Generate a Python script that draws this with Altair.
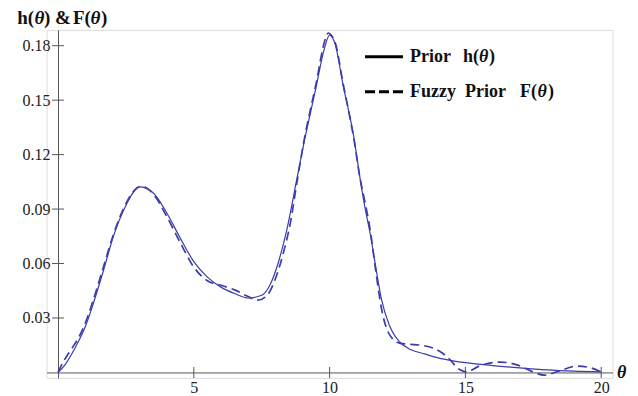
import altair as alt
import pandas as pd

# ---- data ----
theta_h = [0, 0.25, 0.5, 0.75, 1.0, 1.3, 1.67, 2.04, 2.5, 3.0, 3.5, 4.0, 4.5, 5.0, 5.5, 6.0, 6.5,
           7.0, 7.5, 7.8, 8.1, 8.4, 8.8, 9.05, 9.5, 9.8, 10.0, 10.2, 10.5, 10.9, 11.12, 11.3, 11.5,
           11.7, 11.9, 12.2, 12.6, 13.0, 13.5, 14.0, 14.5, 15.0, 16.0, 17.0, 18.0, 19.0, 20.0]
h_vals = [0.0, 0.004, 0.010, 0.017, 0.025, 0.038, 0.056, 0.075, 0.092, 0.1022, 0.099, 0.088, 0.074,
          0.061, 0.0525, 0.047, 0.0435, 0.041, 0.0425, 0.048, 0.060, 0.077, 0.107, 0.126, 0.157,
          0.178, 0.1858, 0.181, 0.158, 0.129, 0.107, 0.091, 0.076, 0.058, 0.041, 0.026, 0.0165,
          0.0125, 0.0102, 0.008, 0.0065, 0.0054, 0.0038, 0.0025, 0.0014, 0.0007, 0.0003]

theta_f = [0, 0.2, 0.5, 0.75, 1.0, 1.3, 1.67, 2.04, 2.5, 2.9, 3.1, 3.5, 4.0, 4.5, 5.0, 5.5, 6.0,
           6.5, 7.0, 7.35, 7.7, 8.05, 8.3, 8.55, 8.8, 9.05, 9.5, 9.85, 9.95, 10.05, 10.2, 10.5,
           10.9, 11.12, 11.3, 11.5, 11.7, 11.9, 12.2, 12.6, 13.0, 13.35, 13.8, 14.3, 14.8, 15.05,
           15.5, 16.3, 16.9, 17.5, 17.9, 18.4, 19.1, 19.6, 20.0]
f_vals = [0.0, 0.006, 0.013, 0.019, 0.027, 0.040, 0.058, 0.076, 0.093, 0.1015, 0.1025, 0.0985,
          0.086, 0.0715, 0.058, 0.0505, 0.048, 0.0455, 0.0418, 0.0398, 0.0425, 0.0535, 0.066,
          0.082, 0.105, 0.127, 0.159, 0.184, 0.187, 0.186, 0.182, 0.159, 0.128, 0.107, 0.094,
          0.078, 0.056, 0.036, 0.021, 0.016, 0.0155, 0.015, 0.0135, 0.009, 0.0015, 0.0003,
          0.0035, 0.0057, 0.0042, 0.0002, -0.0015, 0.0005, 0.0035, 0.0026, 0.0002]

x_ticks = [5, 10, 15, 20]
y_ticks = [0.03, 0.06, 0.09, 0.12, 0.15, 0.18]

# ---- styling ----
BLUE = "#3c3caa"
AXC = "#555555"
SERIF = "Liberation Serif"
W, H = 566, 348
XDOM = [-0.42, 20.42]
YDOM = [-0.003, 0.1887]

xs = alt.Scale(domain=XDOM, nice=False, zero=False)
ys = alt.Scale(domain=YDOM, nice=False, zero=False)

x_axis = alt.Axis(values=x_ticks, ticks=False, grid=False, domainColor=AXC, domainWidth=1,
                  labelFont=SERIF, labelFontSize=16, labelColor="#222222", labelPadding=7,
                  offset=-5.45, title=None, labelFlush=False)
y_axis = alt.Axis(values=y_ticks, format=".2f", ticks=False, grid=False, domainColor=AXC,
                  domainWidth=1, labelFont=SERIF, labelFontSize=16, labelColor="#222222",
                  labelPadding=8, offset=-11.4, title=None, labelFlush=False)

h_df = pd.DataFrame({"theta": theta_h, "value": h_vals})
f_df = pd.DataFrame({"theta": theta_f, "value": f_vals})

X = lambda f: alt.X(f, type="quantitative", scale=xs, axis=x_axis)
Y = lambda f: alt.Y(f, type="quantitative", scale=ys, axis=y_axis)

solid = alt.Chart(h_df).mark_line(color=BLUE, strokeWidth=1.2, interpolate="monotone").encode(
    x=X("theta"), y=Y("value"))
dashed = alt.Chart(f_df).mark_line(color=BLUE, strokeWidth=1.7, strokeDash=[9, 5],
                                   interpolate="monotone").encode(x=X("theta"), y=Y("value"))

xt = alt.Chart(pd.DataFrame({"t": x_ticks})).mark_tick(
    orient="vertical", size=11, thickness=1, color=AXC, opacity=1).encode(
    x=X("t"), y=alt.YDatum(0, scale=ys, axis=y_axis))
yt = alt.Chart(pd.DataFrame({"t": y_ticks})).mark_tick(
    orient="horizontal", size=12, thickness=1, color=AXC, opacity=1).encode(
    y=Y("t"), x=alt.XDatum(0, scale=xs, axis=x_axis))

one = alt.Data(values=[{"k": 1}])
L0, T0 = 46.6, 29.9  # page position of the plot area's top-left


def txt(s, px, py, size=18, italic=False):
    return alt.Chart(one).mark_text(
        text=s, align="left", baseline="middle", font=SERIF, fontWeight="bold",
        fontStyle="italic" if italic else "normal", fontSize=size, color="#111111").encode(
        x=alt.value(px - L0), y=alt.value(py - T0))


def rule(x1, x2, py, dash):
    return alt.Chart(one).mark_rule(color="black", strokeWidth=3, strokeDash=dash).encode(
        x=alt.value(x1 - L0), x2=alt.value(x2 - L0), y=alt.value(py - T0))


labels = [
    # y-axis title  h(θ) & F(θ)
    txt("h(", 17.3, 18, 19), txt("θ", 34.5, 18, 19, True), txt(")", 44, 18, 19),
    txt("&", 55, 18, 19),
    txt("F(", 73, 18, 19), txt("θ", 90.5, 18, 19, True), txt(")", 101, 18, 19),
    # x-axis title
    txt("θ", 617, 373, 18, True),
    # legend
    rule(365, 403, 56.7, [1, 0]), rule(365, 403, 91.7, [10, 4]),
    txt("Prior", 410, 57, 18), txt("h(", 463, 57, 18), txt("θ", 479, 57, 18, True),
    txt(")", 489, 57, 18),
    txt("Fuzzy", 410, 92, 18), txt("Prior", 465, 92, 18), txt("F(", 520, 92, 18),
    txt("θ", 537.5, 92, 18, True), txt(")", 548, 92, 18),
]

chart = alt.layer(xt, yt, solid, dashed, *labels).properties(
    width=W, height=H,
    autosize=alt.AutoSizeParams(type="none"),
    padding={"left": 38.6, "top": 21.9, "right": 17.4, "bottom": 18},
).configure_view(stroke=None).configure(background="white")

chart.save("out.html", embed_options={"renderer": "svg", "actions": False})
